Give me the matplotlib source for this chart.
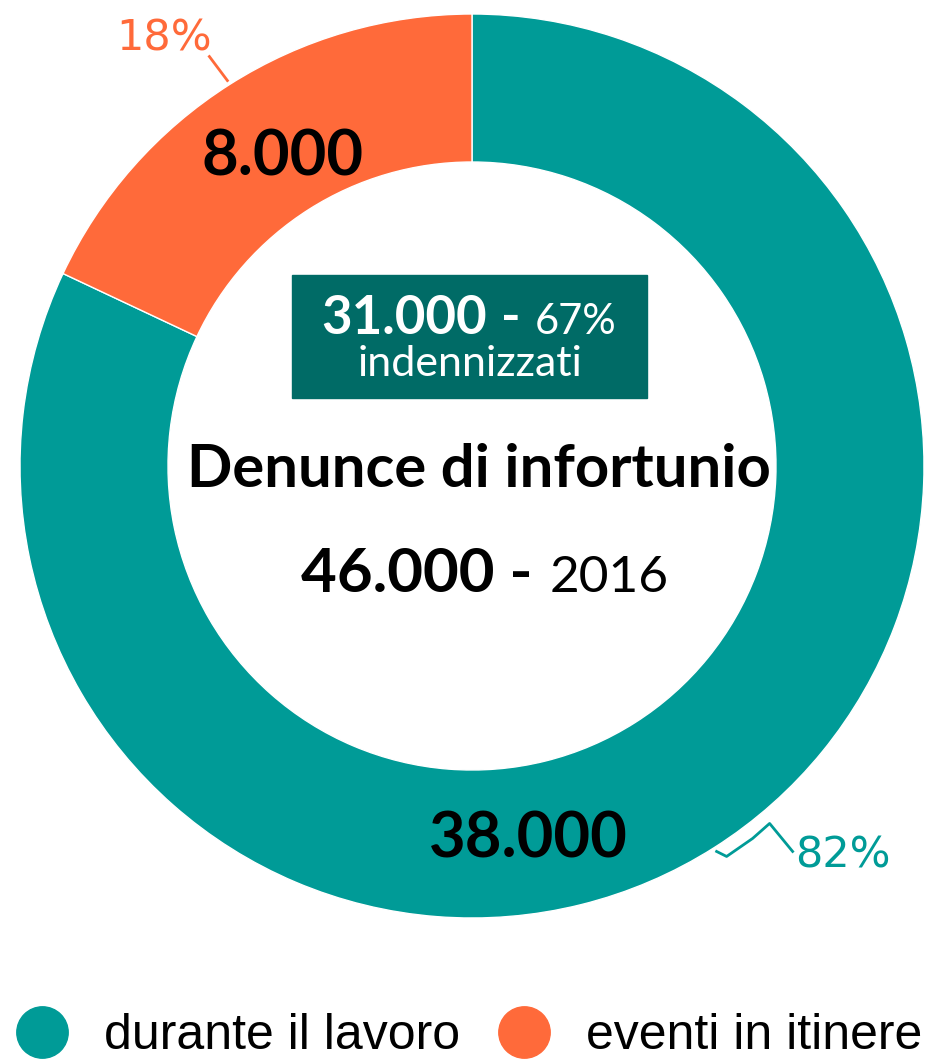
import numpy as np
import matplotlib.pyplot as plt
from matplotlib.lines import Line2D
from matplotlib.patches import Rectangle
from matplotlib.offsetbox import TextArea, HPacker, AnnotationBbox

# data
labels = ["durante il lavoro", "eventi in itinere"]
counts = ["38.000", "8.000"]
shares = [82, 18]
colors = ["#009b97", "#ff6a3a"]
total = "46.000"
year = "2016"
paid = "31.000"
paid_share = "67%"

W, H = 926, 1060
fig = plt.figure(figsize=(W / 100, H / 100), dpi=100)
ax = fig.add_axes([0, 0, 1, 1])

cx, cy = 472, H - 466
R, ring = 452, 148
wedges, _ = ax.pie(shares, colors=colors, startangle=90, counterclock=False,
                   center=(cx, cy), radius=R,
                   wedgeprops=dict(width=ring, edgecolor="white", linewidth=1))
ax.set_xlim(0, W)
ax.set_ylim(0, H)
ax.set_aspect("equal")
ax.axis("off")

main = "Lato"

# counts inside the ring
ax.text(283, H - 158, counts[1], ha="center", va="center", fontsize=45.5,
        fontweight="bold", family=main)
ax.text(528, H - 840, counts[0], ha="center", va="center", fontsize=45.5,
        fontweight="bold", family=main)

# percentage labels with leader lines
def mid_point(w, r):
    a = np.deg2rad((w.theta1 + w.theta2) / 2)
    return cx + r * np.cos(a), cy + r * np.sin(a)

x0, y0 = mid_point(wedges[0], R * 1.01)
lx = [x0, x0 + 10, x0 + 36, x0 + 53, x0 + 76]
ly = [y0, y0 - 5, y0 + 13, y0 + 28, y0]
ax.plot(lx, ly, color=colors[0], lw=2)
ax.text(x0 + 79, y0 - 4, f"{shares[0]}%", ha="left", va="center",
        fontsize=31, color=colors[0], family="DejaVu Sans")

x1, y1 = mid_point(wedges[1], R * 1.01)
ax.plot([x1, x1 - 18], [y1, y1 + 24], color=colors[1], lw=2)
ax.text(x1 - 63, y1 + 42, f"{shares[1]}%", ha="center", va="center",
        fontsize=31, color=colors[1], family="DejaVu Sans")

# box with compensated claims
ax.add_patch(Rectangle((292, H - 398), 355, 123, color="#006b66", zorder=3))
row = HPacker(children=[
    TextArea(paid, textprops=dict(fontsize=38, fontweight="bold", color="white", family=main)),
    TextArea("-", textprops=dict(fontsize=38, fontweight="bold", color="white", family=main)),
    TextArea(paid_share, textprops=dict(fontsize=30, color="white", family=main)),
], pad=0, sep=10, align="baseline")
ax.add_artist(AnnotationBbox(row, (469, H - 318), frameon=False, zorder=4))
ax.text(470, H - 364, "indennizzati", ha="center", va="center", fontsize=31,
        color="white", family=main, zorder=4)

# central title
ax.text(479, H - 470, "Denunce di infortunio", ha="center", va="center",
        fontsize=43, fontweight="bold", family=main)
row2 = HPacker(children=[
    TextArea(total + " -", textprops=dict(fontsize=44.5, fontweight="bold", family=main)),
    TextArea(year, textprops=dict(fontsize=37, family=main)),
], pad=0, sep=12, align="baseline")
ax.add_artist(AnnotationBbox(row2, (485, H - 574), frameon=False))

# legend
handles = [Line2D([], [], marker="o", ls="", markersize=37, color=c) for c in colors]
ax.legend(handles, labels, loc="center left", bbox_to_anchor=(17 / W, (H - 1036) / H),
          ncol=2, frameon=False, handlelength=1.0, handletextpad=0.74,
          columnspacing=0.78, borderpad=0, borderaxespad=0,
          prop=dict(family="Liberation Sans", size=36))

fig.savefig("out.png", dpi=100)
